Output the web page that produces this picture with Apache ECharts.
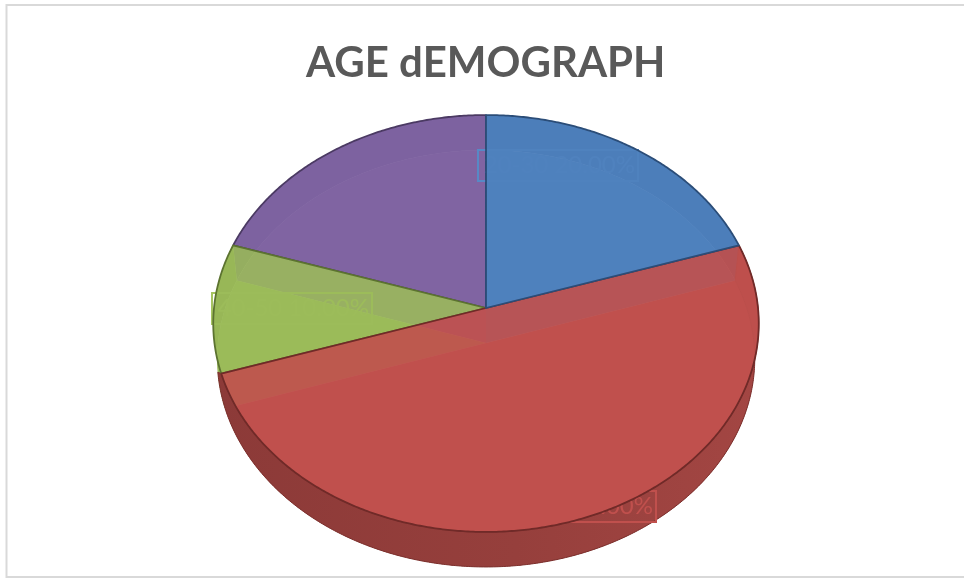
<!DOCTYPE html>
<html><head><meta charset="utf-8">
<style>html,body{margin:0;padding:0;background:#fff}#c{width:964px;height:579px}</style>
<script src="https://cdn.jsdelivr.net/npm/echarts@6/dist/echarts.min.js"></script>
</head><body><div id="c"></div>
<script>
const titleText = 'AGE dEMOGRAPH';
const categories = ['20-30', '30-40', '40-50', '50-60'];
const values = [20, 50, 10, 20];
const colors = ['#4f81bd', '#c0504d', '#9bbb59', '#8064a2'];
const edgeColors = ['#2b4d78', '#702a28', '#5c7330', '#4b3a63'];
const wallColors = ['#3c6ba3', '#9a423f', '#879f4d', '#6d5590'];
const labelColors = ['#5789c6', '#c0504d', '#a6c461', '#8064a2'];
const faceAlpha = [0.88, 0.92, 0.88, 0.88];
const labelBoxes = [[478, 150, 160, 31], [496, 491, 160, 31], [212, 293, 160, 31], null];

// projected disc: pie centre, half axes, perspective, depth
const CX = 486, CY = 308, A = 272, A_LOW = 268, B = 207.3, P = 0.0743, DEPTH = 35;
const total = values.reduce((s, v) => s + v, 0);
let acc = 0;
const spans = values.map(v => { const a = acc / total * 360; acc += v; return [a, acc / total * 360]; });
const pt = (deg, dy) => {
  const t = deg * Math.PI / 180, X = Math.sin(t), Z = Math.cos(t), w = 1 + P * Z;
  return [CX + (dy ? A_LOW : A) * X / w, CY + dy - B * Z / w];
};
const arc = (a, b, dy) => {
  const out = [], n = Math.max(2, Math.ceil((b - a) * 2));
  for (let i = 0; i <= n; i++) out.push(pt(a + (b - a) * i / n, dy));
  return out;
};
const sector = (i, dy) => [[CX, CY + dy], ...arc(spans[i][0], spans[i][1], dy)];
// the front wall's lower edge runs on a little past the slice, where it wraps the silhouette
const wall = (a, b, extra) => [...arc(a, b, 0), ...arc(a, b + extra, DEPTH).reverse()];
const isFront = i => i === 1;
const drawOrder = [3, 2, 1, 0];
const rows = drawOrder.map(i => [i, values[i]]);

const layer = (z, fn) => ({
  type: 'custom', coordinateSystem: 'none', silent: true, z, animation: false,
  data: rows, renderItem: (p, api) => fn(api.value(0)) || { type: 'group', children: [] }
});
const wallShape = (i, stroke) => ({
  type: 'polygon', shape: { points: wall(spans[i][0], spans[i][1], isFront(i) ? 10 : 0) },
  style: {
    fill: isFront(i) ? { type: 'linear', x: 0, y: 0, x2: 1, y2: 0, colorStops: [
      { offset: 0, color: '#8c3a38' }, { offset: .55, color: '#963f3c' }, { offset: 1, color: '#a34643' }] } : wallColors[i],
    stroke, lineWidth: 1
  }
});
const labelParts = i => {
  const b = labelBoxes[i];
  if (!b) return [];
  const pct = (values[i] / total * 100).toFixed(2) + '%';
  return [
    { type: 'rect', shape: { x: b[0], y: b[1], width: b[2], height: b[3] },
      style: { fill: 'transparent', stroke: labelColors[i], lineWidth: 2 } },
    { type: 'text', x: b[0] + b[2] - 3, y: b[1] + b[3] / 2, style: {
      text: categories[i] + ' ' + pct, fill: labelColors[i], align: 'right', verticalAlign: 'middle',
      fontFamily: 'Lato', fontSize: 24 } }
  ];
};

const option = {
  backgroundColor: '#fff', animation: false,
  title: { text: titleText, left: 301, top: 37, textStyle: {
    fontFamily: 'Lato', fontWeight: 'bold', fontSize: 42, color: '#595959' } },
  graphic: [{ type: 'rect', silent: true, z: -1, shape: { x: 6.5, y: 5, width: 960, height: 572 },
    style: { fill: '#fff', stroke: '#d9d9d9', lineWidth: 2 } }],
  series: [
    layer(2, i => isFront(i) ? null : wallShape(i, 'transparent')),
    layer(3, i => ({ type: 'polygon', shape: { points: sector(i, DEPTH) }, style: { fill: colors[i] } })),
    layer(4, i => isFront(i) ? wallShape(i, '#7a302d') : null),
    layer(6, i => ({ type: 'group', children: [
      ...labelParts(i),
      { type: 'polygon', shape: { points: sector(i, 0) },
        style: { fill: echarts.color.modifyAlpha(colors[i], faceAlpha[i]), stroke: edgeColors[i], lineWidth: 1.8, lineJoin: 'round' } }
    ] }))
  ]
};
echarts.init(document.getElementById('c'), null, { renderer: 'canvas' }).setOption(option);
</script></body></html>
